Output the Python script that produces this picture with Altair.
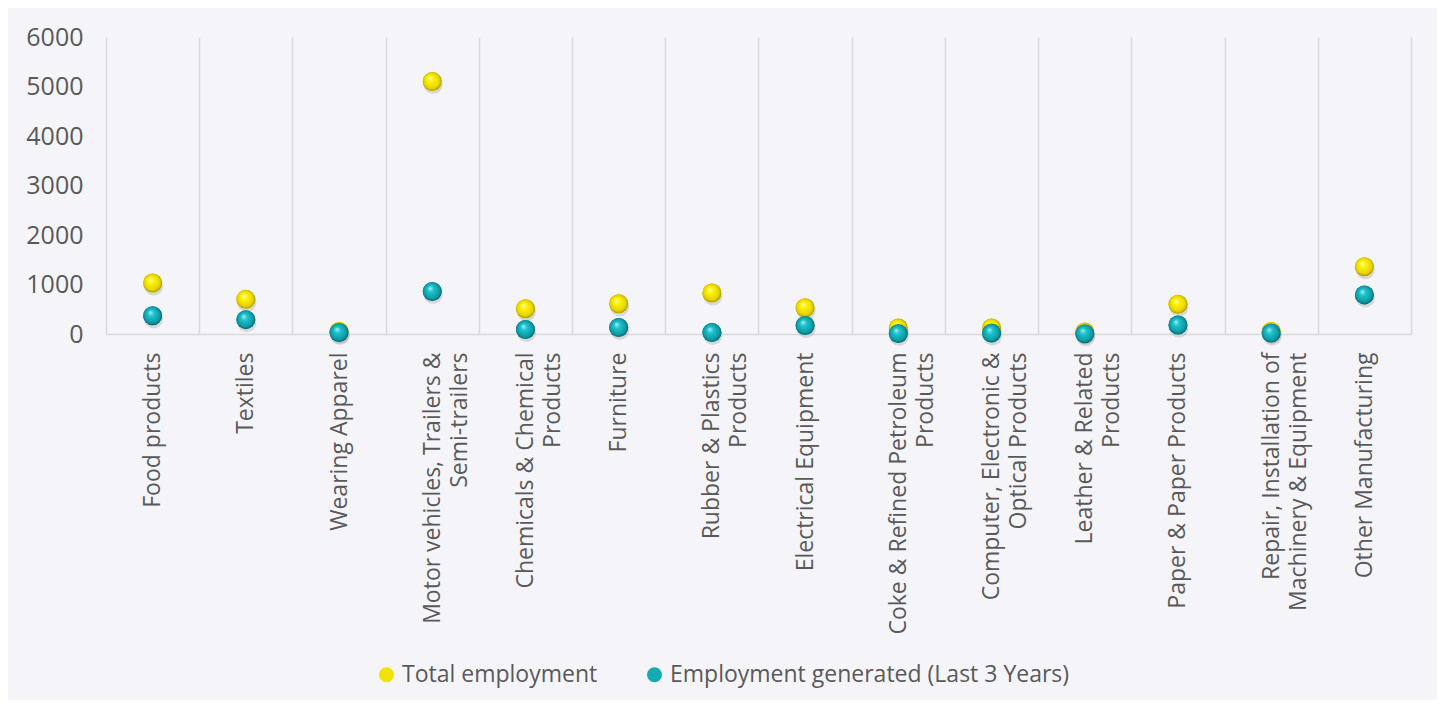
import altair as alt
import pandas as pd

categories = [
    "Food products",
    "Textiles",
    "Wearing Apparel",
    "Motor vehicles, Trailers &\nSemi-trailers",
    "Chemicals & Chemical\nProducts",
    "Furniture",
    "Rubber & Plastics\nProducts",
    "Electrical Equipment",
    "Coke & Refined Petroleum\nProducts",
    "Computer, Electronic &\nOptical Products",
    "Leather & Related\nProducts",
    "Paper & Paper Products",
    "Repair, Installation of\nMachinery & Equipment",
    "Other Manufacturing",
]
total_employment = [1030, 700, 50, 5100, 510, 610, 830, 530, 120, 120, 40, 600, 50, 1360]
employment_generated = [370, 290, 30, 860, 90, 130, 30, 170, 10, 20, 5, 180, 20, 790]
series_names = ["Total employment", "Employment generated (Last 3 Years)"]
series_colors = ["#F2E200", "#14AAB4"]
y_ticks = [0, 1000, 2000, 3000, 4000, 5000, 6000]

rows = []
for c, t, g in zip(categories, total_employment, employment_generated):
    rows.append({"category": c, "series": series_names[0], "value": t, "order": 0})
    rows.append({"category": c, "series": series_names[1], "value": g, "order": 1})
df = pd.DataFrame(rows)

FONT = "Open Sans"
TXT = "#595959"
GRID = "#D9D9D9"

x = alt.X(
    "category:N",
    sort=categories,
    title=None,
    scale=alt.Scale(paddingInner=0, paddingOuter=0),
    axis=alt.Axis(
        labelAngle=-90,
        labelExpr="split(datum.label, '\\n')",
        labelFont=FONT,
        labelFontSize=23,
        labelColor=TXT,
        labelPadding=18,
        labelLineHeight=27,
        labelLimit=0,
        ticks=False,
        tickSize=0,
        tickBand="extent",
        domainColor=GRID,
        domainWidth=1.5,
        grid=True,
        gridColor=GRID,
        gridWidth=1.5,
    ),
)
y = alt.Y(
    "value:Q",
    title=None,
    scale=alt.Scale(domain=[0, 6000]),
    axis=alt.Axis(
        values=y_ticks,
        format="d",
        grid=False,
        domain=False,
        ticks=False,
        tickSize=0,
        labelPadding=23,
        labelFont=FONT,
        labelFontSize=25,
        labelColor=TXT,
    ),
)

base = alt.Chart(df)

shadow = base.mark_circle(size=361, color="#5a5a5a", opacity=0.18, yOffset=3, xOffset=1).encode(
    x=x, y=y, order=alt.Order("order:Q")
)

solid = base.mark_circle(size=361, opacity=1).encode(
    x=x,
    y=y,
    order=alt.Order("order:Q"),
    color=alt.Color(
        "series:N",
        scale=alt.Scale(domain=series_names, range=series_colors),
        legend=alt.Legend(
            title=None,
            orient="none",
            legendX=269,
            legendY=626,
            direction="horizontal",
            symbolType="circle",
            symbolSize=225,
            symbolOpacity=1,
            labelFont=FONT,
            labelFontSize=23,
            labelColor=TXT,
            labelOffset=4,
            labelLimit=0,
            columnPadding=45,
            padding=0,
        ),
    ),
)


def grad(stops):
    return alt.RadialGradient(
        gradient="radial",
        stops=[alt.GradientStop(offset=o, color=c) for o, c in stops],
        x1=0.38, y1=0.32, r1=0,
        x2=0.5, y2=0.5, r2=0.55,
    )


yellow_grad = grad([(0, "#FFFFB8"), (0.3, "#FFF200"), (0.75, "#E6D200"), (1, "#8F8400")])
teal_grad = grad([(0, "#A8F4F8"), (0.3, "#1DC3CE"), (0.75, "#0E9AA4"), (1, "#06555B")])

y_layer = base.transform_filter(alt.datum.series == series_names[0]).mark_circle(
    size=361, fill=yellow_grad, opacity=1
).encode(x=x, y=y)
t_layer = base.transform_filter(alt.datum.series == series_names[1]).mark_circle(
    size=361, fill=teal_grad, opacity=1
).encode(x=x, y=y)

chart = (
    alt.layer(shadow, solid, y_layer, t_layer)
    .properties(
        width=1305,
        height=297,
        autosize=alt.AutoSizeParams(type="none"),
        padding={"left": 98, "top": 29, "right": 26, "bottom": 366},
    )
    .configure(background="#F5F5F9")
    .configure_view(stroke=None)
)

chart.save("out.html", embed_options={"renderer": "svg", "actions": False})
